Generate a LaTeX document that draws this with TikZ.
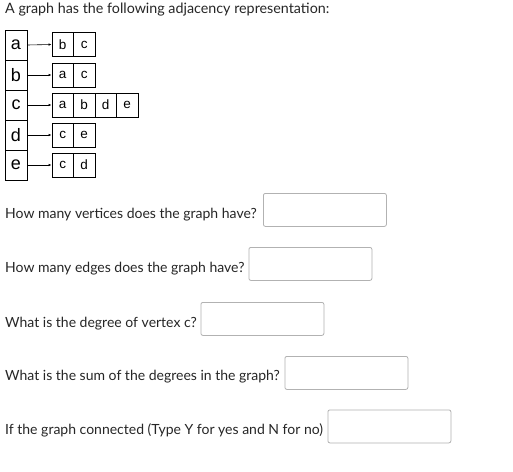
\documentclass[tikz,border=0pt]{standalone}
\usepackage{fontspec}
\setmainfont{Lato}
\newfontfamily\cellfont{Liberation Sans}
\usepackage{tikz}
\usetikzlibrary{arrows.meta}

\tikzset{
  vbox/.style={draw, line width=0.9pt, minimum width=22pt, minimum height=30pt, inner sep=0pt, font=\cellfont\fontsize{18}{18}\selectfont},
  cell/.style={draw, line width=0.9pt, minimum width=21.5pt, minimum height=24pt, inner sep=0pt, font=\cellfont\fontsize{13.5}{14}\selectfont},
  link/.style={line width=0.6pt, -{Latex[length=3pt,width=2.6pt]}},
  ask/.style={anchor=base west, inner sep=0pt, text=black!85, font=\fontsize{14}{15}\selectfont},
  answer/.style={draw=black!30, line width=0.8pt, rounded corners=2pt, anchor=north west, minimum width=123pt, minimum height=33pt, inner sep=0pt}
}

\begin{document}
\begin{tikzpicture}[x=1pt,y=-1pt]
\useasboundingbox[fill=white] (0,0) rectangle (513,471);
\node[ask, font=\fontsize{14.3}{15}\selectfont] (title) at (5,13) {A graph has the following adjacency representation:};
% vertex column
\foreach \v/\y in {a/45,b/75,c/105,d/135,e/165}
  \node[vbox] (v\v) at (16,\y) {\v};
% adjacency lists
\node[cell] (a1) at (62.75,44.5) {b};
\node[cell] (a2) at (84.25,44.5) {c};
\node[cell] (b1) at (62.75,75) {a};
\node[cell] (b2) at (84.25,75) {c};
\node[cell] (c1) at (62.75,105) {a};
\node[cell] (c2) at (84.25,105) {b};
\node[cell] (c3) at (105.75,105) {d};
\node[cell] (c4) at (127.25,105) {e};
\node[cell] (d1) at (62.75,135) {c};
\node[cell] (d2) at (84.25,135) {e};
\node[cell] (e1) at (62.75,165) {c};
\node[cell] (e2) at (84.25,165) {d};
\foreach \v in {a,b,c,d,e}
  \draw[link] (v\v.east) -- (\v1.west);
% questions
\node[ask] (q1) at (5,218) {How many vertices does the graph have?};
\node[answer] (r1) at (263,193) {};
\node[ask] (q2) at (5,272) {How many edges does the graph have?};
\node[answer] (r2) at (248.5,247) {};
\node[ask] (q3) at (5,327) {What is the degree of vertex c?};
\node[answer] (r3) at (200.5,302) {};
\node[ask] (q4) at (5,380.5) {What is the sum of the degrees in the graph?};
\node[answer] (r4) at (284.5,356) {};
\node[ask] (q5) at (5,434.5) {If the graph connected (Type Y for yes and N for no)};
\node[answer] (r5) at (327.5,409.5) {};
\end{tikzpicture}
\end{document}
